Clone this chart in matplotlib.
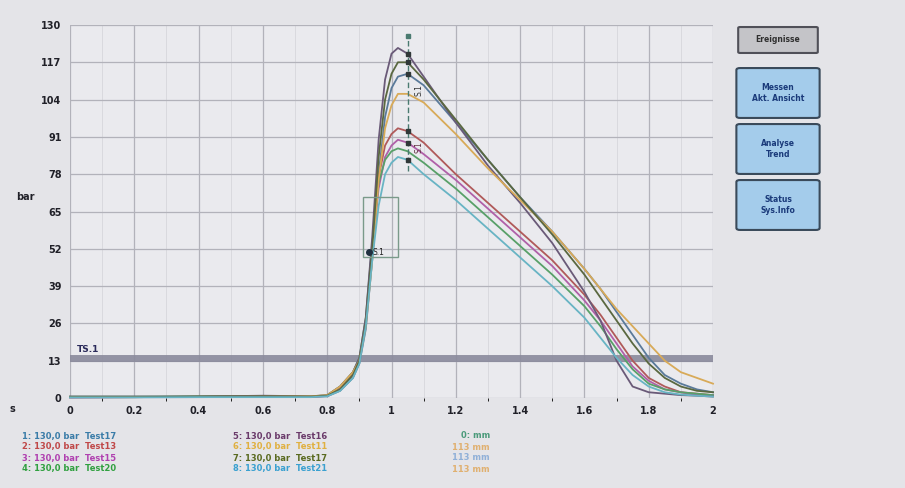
import matplotlib.pyplot as plt
import numpy as np
from matplotlib.patches import FancyBboxPatch, Rectangle

# time axis (s) shared by all curves
t = [0.0, 0.2, 0.4, 0.6, 0.75, 0.8, 0.84, 0.88, 0.9, 0.92, 0.94, 0.96, 0.98, 1.0, 1.02,
     1.05, 1.1, 1.2, 1.3, 1.4, 1.5, 1.6, 1.65, 1.7, 1.75, 1.8, 1.85, 1.9, 1.95, 2.0]

p1 = [0.2, 0.3, 0.4, 0.5, 0.4, 0.6, 2.5, 7, 12, 24, 48, 78, 98, 108, 112,
      113, 109, 96, 83, 70, 58, 45, 38, 30, 22, 14, 8, 5, 3, 2]
p2 = [0.3, 0.3, 0.4, 0.5, 0.4, 0.8, 3.5, 8, 13, 27, 53, 77, 88, 92, 94,
      93, 89, 78, 68, 58, 48, 36, 29, 21, 13, 7, 4, 2, 1.5, 1]
p3 = [0.2, 0.3, 0.3, 0.4, 0.4, 0.7, 3, 8, 13, 26, 51, 73, 84, 88, 90,
      89, 85, 76, 66, 56, 46, 34, 27, 19, 11, 6, 3, 2, 1, 1]
p4 = [0.5, 0.5, 0.6, 0.7, 0.5, 1, 4, 9, 14, 28, 54, 75, 83, 86, 87,
      86, 82, 73, 63, 53, 43, 32, 25, 17, 10, 5, 3, 2, 1.5, 1]
p5 = [0.5, 0.5, 0.5, 0.8, 0.6, 1, 4, 9, 14, 28, 56, 90, 111, 120, 122,
      120, 112, 96, 81, 68, 54, 37, 27, 13, 4, 2, 1.5, 1, 0.8, 0.5]
p6 = [0.3, 0.3, 0.4, 0.5, 0.6, 1, 4, 9, 13, 25, 48, 76, 94, 102, 106,
      106, 103, 92, 80, 69, 58, 45, 38, 31, 25, 19, 13, 9, 7, 5]
p7 = [0.3, 0.3, 0.5, 0.6, 0.5, 0.8, 3, 8, 13, 26, 52, 84, 104, 113, 117,
      117, 111, 97, 83, 70, 57, 43, 35, 27, 19, 12, 7, 4, 2.5, 2]
p8 = [0.2, 0.2, 0.3, 0.3, 0.3, 0.6, 2.5, 7, 12, 25, 48, 67, 78, 82, 84,
      83, 78, 69, 59, 49, 39, 28, 21, 14, 8, 4, 2, 1.2, 0.8, 0.5]

curves = [p1, p2, p3, p4, p5, p6, p7, p8]
line_colors = ['#5a7a9a', '#b05a5a', '#b060a8', '#58a068',
               '#6a5a78', '#d8aa58', '#5a6840', '#68b4c4']

yticks = [0, 13, 26, 39, 52, 65, 78, 91, 104, 117, 130]
xticks = [0, 0.2, 0.4, 0.6, 0.8, 1, 1.2, 1.4, 1.6, 1.8, 2]
xtick_labels = ['0', '0.2', '0.4', '0.6', '0.8', '1', '1.2', '1.4', '1.6', '1.8', '2']

threshold = 14
cursor_t = 1.05

legend_left = ['1: 130,0 bar  Test17', '2: 130,0 bar  Test13',
               '3: 130,0 bar  Test15', '4: 130,0 bar  Test20']
legend_mid = ['5: 130,0 bar  Test16', '6: 130,0 bar  Test11',
              '7: 130,0 bar  Test17', '8: 130,0 bar  Test21']
legend_right = ['0: mm', '113 mm', '113 mm', '113 mm']
left_colors = ['#3a7ca8', '#c04848', '#b040b0', '#30a040']
mid_colors = ['#6a3a6a', '#e0b040', '#5a6a20', '#3aa0d0']
right_colors = ['#4a9a7a', '#e0b070', '#90b0d8', '#e0b070']

W, H = 905, 488
fig = plt.figure(figsize=(W / 100, H / 100), dpi=100)
fig.patch.set_facecolor('#e4e4e8')


def fx(px):
    return px / W


def fy(py):
    return 1 - py / H


ax = fig.add_axes([fx(70), fy(398), fx(713) - fx(70), fy(25) - fy(398)])
ax.set_facecolor('#eaeaee')
ax.set_xlim(0, 2)
ax.set_ylim(0, 130)
ax.set_xticks(xticks)
ax.set_xticklabels(xtick_labels)
ax.set_yticks(yticks)
ax.set_xticks(np.arange(0.1, 2.0, 0.2), minor=True)
ax.grid(True, which='major', color='#b2b2ba', lw=0.9)
ax.grid(True, which='minor', axis='x', color='#d6d6dc', lw=0.6)
ax.tick_params(length=0, labelsize=7, colors='#202028', pad=6)
for lab in ax.get_xticklabels() + ax.get_yticklabels():
    lab.set_fontweight('bold')
for s in ax.spines.values():
    s.set_visible(False)

# threshold band
ax.axhline(threshold, color='#8a8a9c', lw=5, alpha=0.9, zorder=2)
ax.text(0.02, threshold + 2, 'TS.1', fontsize=6.5, fontweight='bold', color='#2a2a5a')

for vals, c in zip(curves, line_colors):
    ax.plot(t, vals, color=c, lw=1.3, clip_on=False, zorder=3)

# cursor line with markers
ax.plot([cursor_t, cursor_t], [79, 126], color='#4a7a70', lw=1, ls=(0, (4, 2)), zorder=4)
ax.plot([cursor_t], [126], marker='s', ms=3, color='#4a7a70', zorder=4)
for v in [p5[15], p7[15], p1[15], p2[15], p3[15], p8[15]]:
    ax.plot([cursor_t], [v], marker='s', ms=3, color='#303838', zorder=5)
ax.text(cursor_t + 0.02, 106, 'S.1', fontsize=5.5, color='#303030', rotation=90)
ax.text(cursor_t + 0.02, 86, 'S.1', fontsize=5.5, color='#603040', rotation=90)

# window box
ax.add_patch(Rectangle((0.91, 49), 0.11, 21, fill=False, ec='#7a9a8a', lw=1, zorder=4))
ax.plot([0.93], [51], marker='o', ms=4, color='#203040', zorder=5)
ax.text(0.94, 50, 'S.1', fontsize=5.5, color='#202020', zorder=5)

# axis units
fig.text(fx(25), fy(197), 'bar', fontsize=7, fontweight='bold', color='#202028', ha='center', va='center')
fig.text(fx(12), fy(409), 's', fontsize=7, fontweight='bold', color='#202028', ha='center', va='center')

# legend rows
for i in range(4):
    y = fy(436 + i * 11)
    fig.text(fx(22), y, legend_left[i], fontsize=6, fontweight='bold', color=left_colors[i], va='center')
    fig.text(fx(233), y, legend_mid[i], fontsize=6, fontweight='bold', color=mid_colors[i], va='center')
    fig.text(fx(490), y, legend_right[i], fontsize=6, fontweight='bold', color=right_colors[i], va='center', ha='right')

# side buttons
fig.add_artist(FancyBboxPatch((fx(740), fy(52)), fx(76), fy(28) - fy(52),
                              boxstyle='round,pad=0.002', fc='#c4c4c8', ec='#505058', lw=1.5,
                              transform=fig.transFigure))
fig.text(fx(778), fy(40), 'Ereignisse', fontsize=5.5, fontweight='bold', color='#303030', ha='center', va='center')
buttons = ['Messen\nAkt. Ansicht', 'Analyse\nTrend', 'Status\nSys.Info']
for i, b in enumerate(buttons):
    top = 70 + i * 56
    fig.add_artist(FancyBboxPatch((fx(740), fy(top + 46)), fx(76), fy(top) - fy(top + 46),
                                  boxstyle='round,pad=0.004', fc='#a4cceb', ec='#3a4a5a', lw=1.5,
                                  transform=fig.transFigure))
    fig.text(fx(778), fy(top + 23), b, fontsize=5.5, fontweight='bold', color='#1a3a7a',
             ha='center', va='center', linespacing=1.4)

plt.savefig('out.png', dpi=100, facecolor=fig.get_facecolor())
plt.close()
